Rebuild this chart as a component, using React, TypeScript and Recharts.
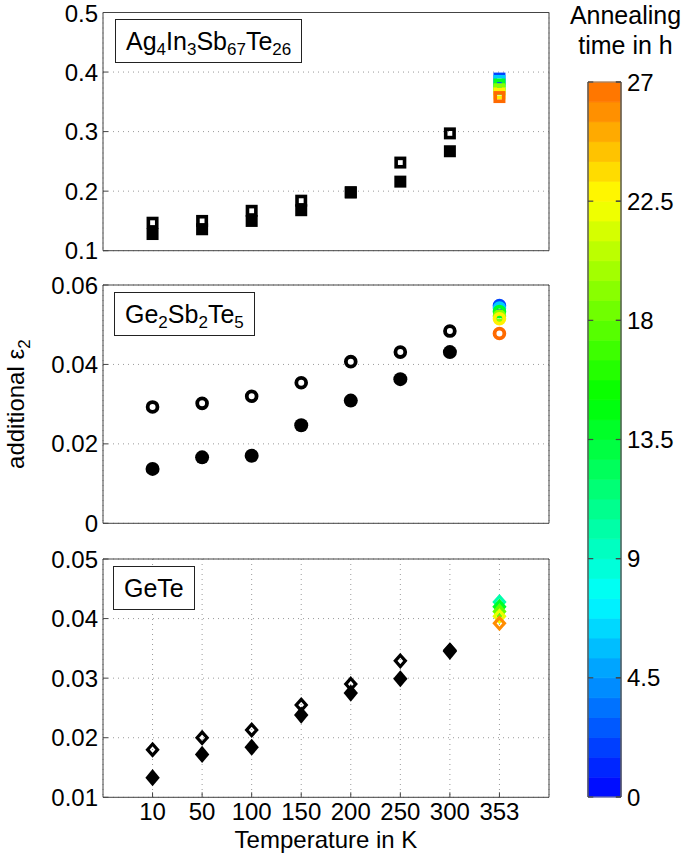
import { ScatterChart, Scatter, XAxis, YAxis, CartesianGrid, ReferenceArea, ReferenceLine, Label } from "recharts";

const temperatures = ["10", "50", "100", "150", "200", "250", "300", "353"];

// Ag4In3Sb67Te26
const aistOpen = [0.147, 0.15, 0.167, 0.184, 0.198, 0.248, 0.297];
const aistFilled = [0.128, 0.136, 0.15, 0.168, 0.198, 0.216, 0.267];
const aistTimes = [2, 6, 14, 19, 23, 27];
const aistAnnealed = [0.389, 0.385, 0.379, 0.371, 0.364, 0.358];

// Ge2Sb2Te5
const gstOpen = [0.0293, 0.0302, 0.032, 0.0354, 0.0407, 0.0431, 0.0484];
const gstFilled = [0.0137, 0.0166, 0.017, 0.0247, 0.0309, 0.0363, 0.0431];
const gstTimes = [2, 6, 14, 19, 23, 27];
const gstAnnealed = [0.0548, 0.0542, 0.0533, 0.0522, 0.0515, 0.0478];

// GeTe
const geteOpen = [0.018, 0.02, 0.0213, 0.0255, 0.029, 0.0329, 0.0347];
const geteFilled = [0.0133, 0.0172, 0.0184, 0.0238, 0.0275, 0.0299, 0.0345];
const geteTimes = [10, 14, 18, 22, 26];
const geteAnnealed = [0.0428, 0.042, 0.0412, 0.0404, 0.0392];

const aistTicks = [0.1, 0.2, 0.3, 0.4, 0.5];
const gstTicks = [0, 0.02, 0.04, 0.06];
const geteTicks = [0.01, 0.02, 0.03, 0.04, 0.05];
const colorbarTicks = [0, 4.5, 9, 13.5, 18, 22.5, 27];
const xTicks = [1, 2, 3, 4, 5, 6, 7, 8];

const FONT = '"Liberation Sans", Arial, Helvetica, sans-serif';
const AXIS = "#444";

const timeColor = (t: number) => `hsl(${240 - (t / 27) * 215}, 100%, 50%)`;
const bands = Array.from({ length: 36 }, (_, i) => i * 0.75);

const toPoints = (vals: number[]) => vals.map((y, i) => ({ x: i + 1, y }));
const toAnnealed = (times: number[], vals: number[]) =>
  vals.map((y, i) => ({ x: 8, y, t: times[i] }));

type Kind = "square" | "circle" | "diamond";

const drawMarker = (kind: Kind, open: boolean) => (props: any) => {
  const { cx, cy, payload } = props;
  if (cx == null || cy == null) return <g />;
  const color = payload && payload.t !== undefined ? timeColor(payload.t) : "#000";
  const fill = open ? "none" : color;
  const stroke = open ? color : "none";
  if (kind === "square") {
    const s = open ? 8.4 : 12;
    return <rect x={cx - s / 2} y={cy - s / 2} width={s} height={s} fill={fill} stroke={stroke} strokeWidth={3.6} />;
  }
  if (kind === "circle") {
    const r = open ? 4.9 : 7;
    return <circle cx={cx} cy={cy} r={r} fill={fill} stroke={stroke} strokeWidth={3.8} />;
  }
  const hw = open ? 5 : 7.2;
  const hh = open ? 5.6 : 8.6;
  return (
    <path
      d={`M${cx},${cy - hh}L${cx + hw},${cy}L${cx},${cy + hh}L${cx - hw},${cy}Z`}
      fill={fill}
      stroke={stroke}
      strokeWidth={3.2}
    />
  );
};

const YTitle = (p: any) => {
  const vb = p.viewBox;
  const cy = vb.y + vb.height / 2;
  return (
    <text x={24} y={cy} transform={`rotate(-90, 24, ${cy})`} textAnchor="middle" fontSize={24} fill="#000">
      additional ε<tspan dy={6} fontSize={17}>2</tspan>
    </text>
  );
};

const Panel = ({
  top,
  height,
  mTop,
  mBottom,
  ticks,
  kind,
  open,
  filled,
  annealed,
  bottom,
  yTitle,
}: any) => {
  const domain = [ticks[0], ticks[ticks.length - 1]];
  return (
    <div style={{ position: "absolute", left: 0, top }}>
      <ScatterChart width={560} height={height} margin={{ top: mTop, right: 10, bottom: mBottom, left: 13 }}>
        <CartesianGrid stroke="#9a9a9a" strokeDasharray="1 4" />
        {bottom ? (
          <XAxis
            type="number"
            dataKey="x"
            domain={[0, 9]}
            ticks={xTicks}
            allowDataOverflow
            height={50}
            tickSize={-5}
            tickMargin={11}
            stroke={AXIS}
            tick={{ fontSize: 24, fill: "#000" }}
            tickFormatter={(v: number) => temperatures[v - 1]}
          >
            <Label value="Temperature in K" position="insideBottom" offset={-1} style={{ fontSize: 24, fill: "#000" }} />
          </XAxis>
        ) : (
          <XAxis type="number" dataKey="x" domain={[0, 9]} ticks={xTicks} allowDataOverflow height={1} tickSize={-5} tick={false} stroke={AXIS} />
        )}
        <XAxis xAxisId="top" orientation="top" type="number" domain={[0, 9]} ticks={xTicks} allowDataOverflow height={1} tickSize={-5} tick={false} stroke={AXIS} />
        <YAxis
          type="number"
          dataKey="y"
          domain={domain}
          ticks={ticks}
          allowDataOverflow
          width={90}
          tickSize={-5}
          tickMargin={10}
          stroke={AXIS}
          tick={{ fontSize: 24, fill: "#000" }}
          tickFormatter={(v: number) => String(v)}
        >
          {yTitle ? <Label content={<YTitle />} /> : null}
        </YAxis>
        <YAxis yAxisId="right" orientation="right" type="number" domain={domain} ticks={ticks} allowDataOverflow width={1} tickSize={-5} tick={false} stroke={AXIS} />
        <Scatter data={toPoints(open)} shape={drawMarker(kind, true)} isAnimationActive={false} />
        <Scatter data={toPoints(filled)} shape={drawMarker(kind, false)} isAnimationActive={false} />
        <Scatter data={annealed} shape={drawMarker(kind, true)} isAnimationActive={false} />
      </ScatterChart>
    </div>
  );
};

const boxStyle = (left: number, top: number): any => ({
  position: "absolute",
  left,
  top,
  height: 42,
  lineHeight: "42px",
  padding: "0 10px",
  border: "1.5px solid #222",
  background: "#fff",
  fontSize: 25,
  color: "#000",
  whiteSpace: "nowrap",
});

const subStyle: any = { fontSize: 17, verticalAlign: "baseline", position: "relative", top: 5 };

export default function App() {
  return (
    <div
      style={{
        position: "fixed",
        left: 0,
        top: 0,
        width: 685,
        height: 858,
        overflow: "hidden",
        background: "#fff",
        fontFamily: FONT,
      }}
    >
      <Panel top={0} height={270} mTop={11.5} mBottom={18.3} ticks={aistTicks} kind="square" open={aistOpen} filled={aistFilled} annealed={toAnnealed(aistTimes, aistAnnealed)} />
      <Panel top={270} height={270} mTop={14} mBottom={15.7} ticks={gstTicks} kind="circle" open={gstOpen} filled={gstFilled} annealed={toAnnealed(gstTimes, gstAnnealed)} yTitle />
      <Panel top={540} height={318} mTop={18} mBottom={10.7} ticks={geteTicks} kind="diamond" open={geteOpen} filled={geteFilled} annealed={toAnnealed(geteTimes, geteAnnealed)} bottom />

      <div style={boxStyle(115, 19)}>
        Ag<span style={subStyle}>4</span>In<span style={subStyle}>3</span>Sb<span style={subStyle}>67</span>Te<span style={subStyle}>26</span>
      </div>
      <div style={boxStyle(114, 291.5)}>
        Ge<span style={subStyle}>2</span>Sb<span style={subStyle}>2</span>Te<span style={subStyle}>5</span>
      </div>
      <div style={boxStyle(113, 565.5)}>GeTe</div>

      <div
        style={{
          position: "absolute",
          left: 563,
          top: 0,
          width: 125,
          textAlign: "center",
          fontSize: 25,
          lineHeight: "30px",
          color: "#000",
        }}
      >
        Annealing
        <br />
        time in h
      </div>
      <div style={{ position: "absolute", left: 560, top: 0 }}>
        <ScatterChart width={125} height={858} margin={{ top: 82, right: 0, bottom: 61, left: 27 }}>
          <XAxis type="number" dataKey="x" domain={[0, 1]} allowDataOverflow hide />
          <YAxis type="number" dataKey="y" domain={[0, 27]} ticks={colorbarTicks} allowDataOverflow width={1} tickSize={-5} tick={false} stroke={AXIS} />
          <YAxis
            yAxisId="r"
            orientation="right"
            type="number"
            domain={[0, 27]}
            ticks={colorbarTicks}
            allowDataOverflow
            width={64}
            tickSize={-5}
            tickMargin={11}
            stroke={AXIS}
            tick={{ fontSize: 24, fill: "#000" }}
          />
          <Scatter data={[{ x: 0, y: 0 }]} shape={() => <g />} isAnimationActive={false} />
          {bands.map((b) => (
            <ReferenceArea
              key={b}
              x1={0}
              x2={1}
              y1={b}
              y2={b + 0.75}
              fill={timeColor(b + 0.375)}
              fillOpacity={1}
              stroke={timeColor(b + 0.375)}
              strokeWidth={0.8}
              ifOverflow="visible"
            />
          ))}
          <ReferenceArea x1={0} x2={1} y1={0} y2={27} fill="none" stroke="#888" ifOverflow="visible" />
          {colorbarTicks.map((t) => (
            <ReferenceLine key={`l${t}`} segment={[{ x: 0, y: t }, { x: 0.16, y: t }]} stroke={AXIS} strokeWidth={1.2} ifOverflow="visible" />
          ))}
          {colorbarTicks.map((t) => (
            <ReferenceLine key={`r${t}`} segment={[{ x: 0.84, y: t }, { x: 1, y: t }]} stroke={AXIS} strokeWidth={1.2} ifOverflow="visible" />
          ))}
        </ScatterChart>
      </div>
    </div>
  );
}
